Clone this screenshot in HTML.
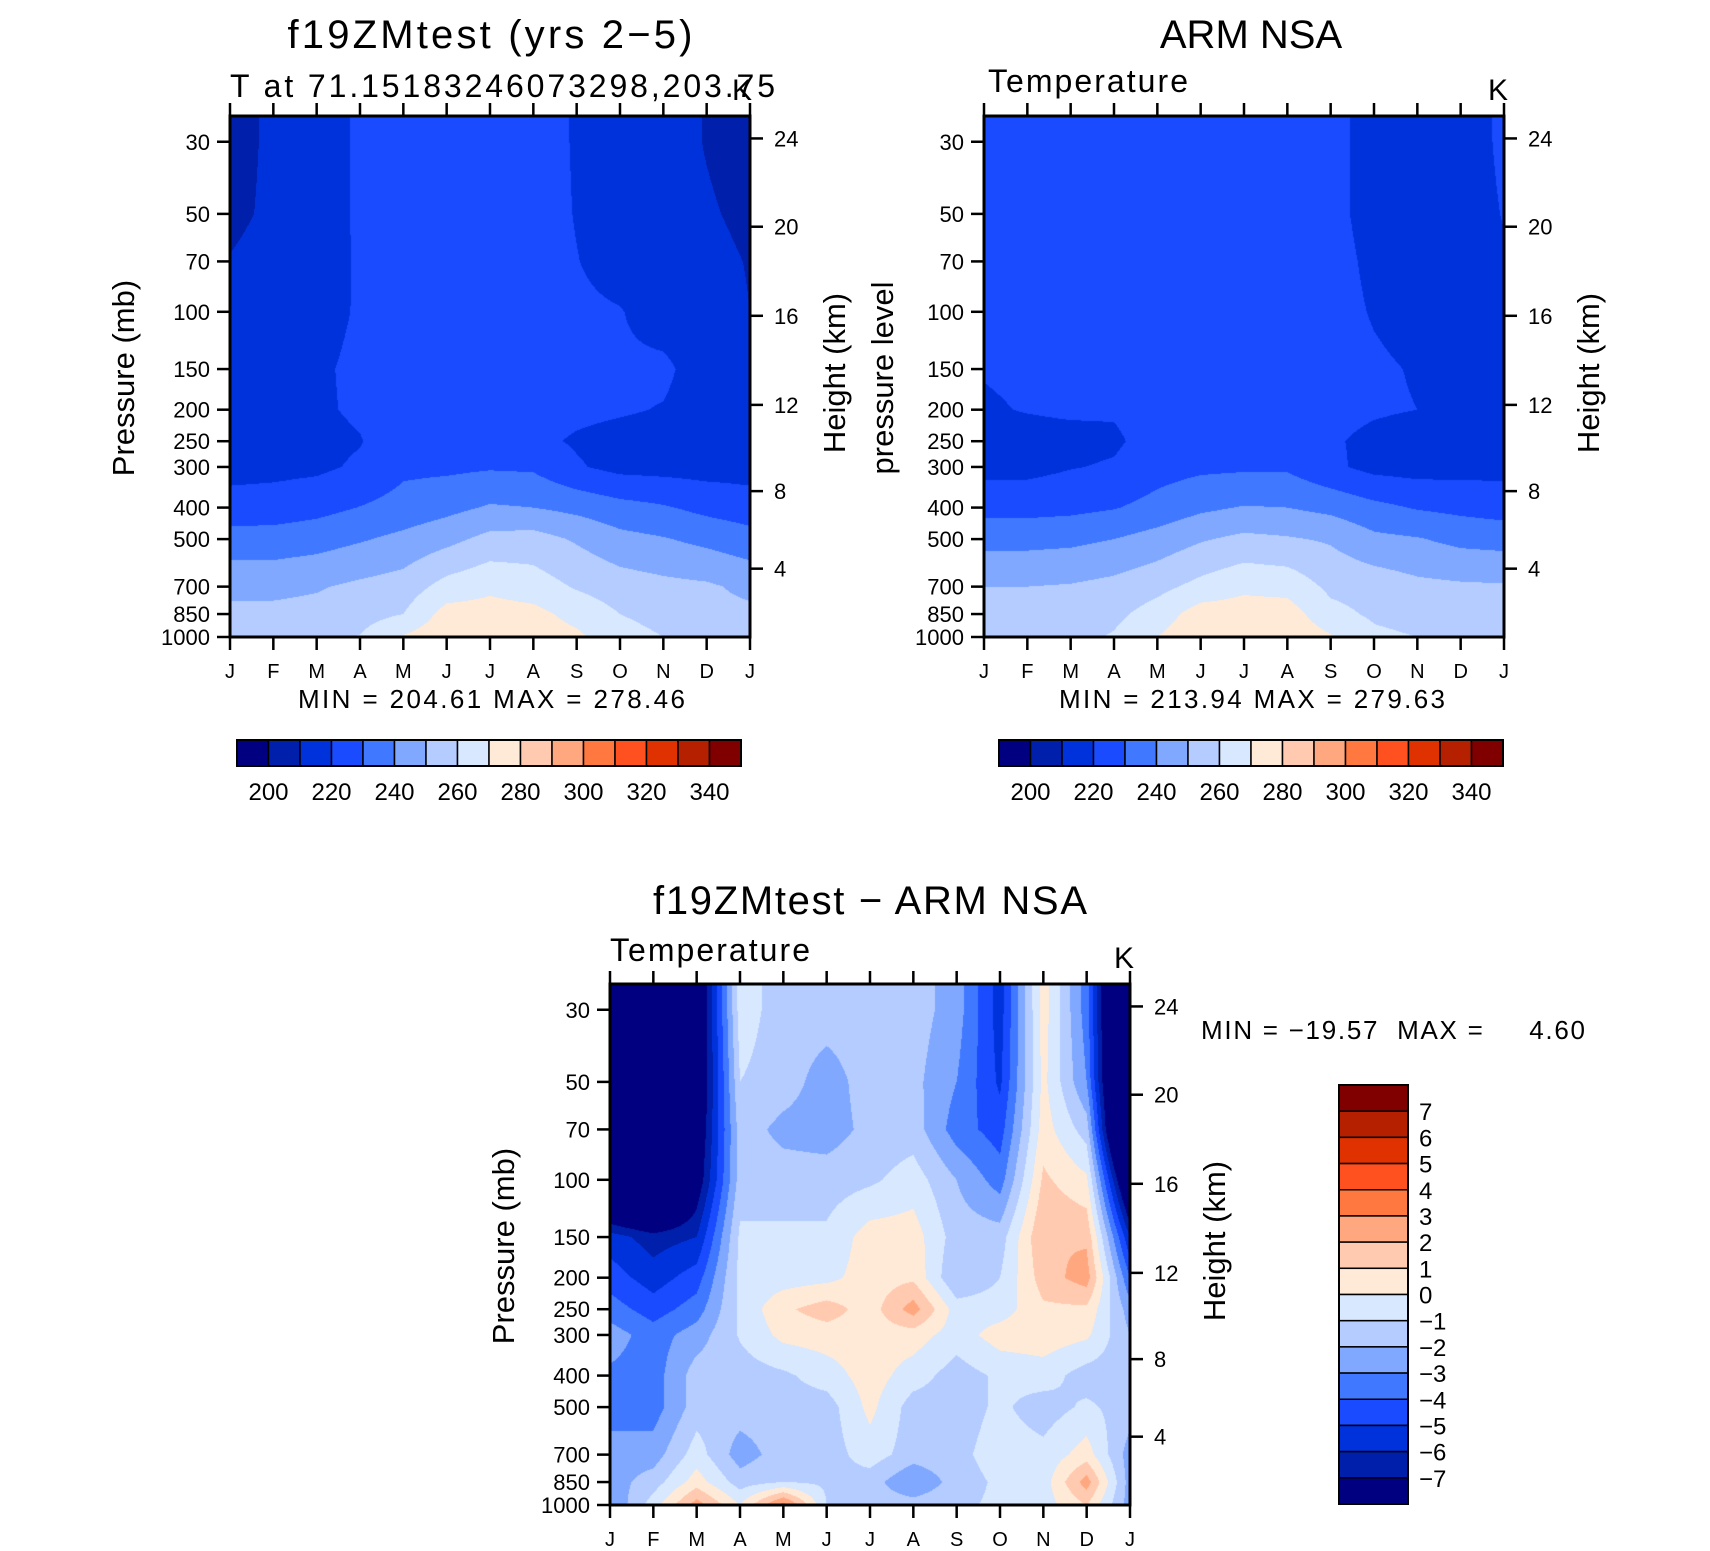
<!DOCTYPE html>
<html><head><meta charset="utf-8">
<style>
html,body{margin:0;padding:0;background:#fff;}
#root{position:relative;width:1710px;height:1551px;overflow:hidden;background:#fff;font-family:"Liberation Sans",sans-serif;}
canvas{position:absolute;}
svg{position:absolute;left:0;top:0;}
</style></head>
<body>
<div id="root">
<canvas id="c-model" width="520" height="521" style="left:230px;top:116px"></canvas>
<canvas id="c-obs" width="520" height="521" style="left:984px;top:116px"></canvas>
<canvas id="c-diff" width="520" height="521" style="left:610px;top:984px"></canvas>
<svg id="ov" width="1710" height="1551"></svg>
</div>
<script>
// ---- data ----
const P_LEVELS = [1000,850,700,500,400,300,250,200,150,100,70,50,30];
const MONTHS = ['J','F','M','A','M','J','J','A','S','O','N','D','J'];
const HEIGHT_TICKS = [4,8,12,16,20,24];
const T_LEVEL_LABELS = [200,220,240,260,280,300,320,340];
const DIFF_LEVEL_LABELS = [7,6,5,4,3,2,1,0,-1,-2,-3,-4,-5,-6,-7];
const PALETTE = ['#000080','#001FAA','#0032DC','#1A4BFF','#4078FF','#80A8FF','#B4CCFF','#D8E8FF','#FFEAD8','#FFCAB0','#FFA880','#FF7840','#FF5020','#E03200','#B42000','#800000'];
// model temperature per month, levels 1000 -> 30 mb
const MODEL_T = [
[255,252.2,247.6,233.8,224.7,216,215,214,214,213,210.5,207.5,206],
[255.5,252.3,247.6,234,224.9,217,215.5,215,215,214.5,214,212,212],
[257,253,249.1,235.8,226.8,218,217,218.5,218.5,216.5,216,215,215],
[260.5,256,252,239,230.3,221.5,219.5,221.5,222,221,221,221.5,221.5],
[271,260,254.4,242.6,233.6,228,226,225,224.5,224,224,224,224],
[277,274,263.8,247,237,228,226,225.5,225.5,225.5,225.5,225.5,225.5],
[278,274,268,253,241.1,229,226,225.5,225,225,225,226,226],
[276,273,265,254,240,228.5,222,223,223,223,224,224.5,225],
[272,266.7,259,248.8,237.2,221,219,222,222.5,222,220.3,219.5,219],
[264,260,255,243,233.5,217,217,221,221.5,220.5,216,215,215],
[260,256.6,252.7,240.7,231,216.5,216,219.5,222,215.5,215,214,214],
[255,252.5,251.5,237.3,227.2,216,215,215,215,214,212.5,211,209.5],
[255,252.2,247.6,233.8,224.7,216,215,214,214,210,209.5,208,206]
];
// ARM NSA temperature
const OBS_T = [
[256,253,250,236.8,226.6,217,216,219,220.5,221.5,222,222,222],
[256,253,250,236.8,226.6,217,216.5,220.5,221.5,222,222,222,222],
[257,254,250.8,237.6,227.4,219.5,217,221.5,222,222.5,222.5,222.5,222.5],
[261,257.5,253,240,229.4,221,218.5,221,223,223,223,223,223],
[270,264.5,257,244,233.3,226,224,224,224,224,224,224,224],
[278,275,263,249,238,228,226,225,225,225,225,225,225],
[279,275,267.8,252.4,240.6,228.5,226,225.5,225.5,225.5,225.5,225.5,225.5],
[278,275,266.5,251,240,228.5,225,225,225,225,225,225,225],
[271,263,257.8,248.8,237.2,222,221,222.5,223,222.5,222.5,222,222.5],
[262,258.5,256,242.3,232.7,217,218,221,221,219.5,218.5,217.5,217],
[260,256.5,252.5,240.7,229.2,216,216,220,219.5,217.5,216,216,215.5],
[255,253,251.5,237.3,227.4,216.5,216,216,216,216,215.5,215,214.5],
[255,253,251,236.3,225.6,217,216,216,216,217,219,220.5,222]
];
// model minus obs
const DIFF_T = [
[-3,-2.5,-2.5,-3.5,-3.2,-2.5,-3.5,-4.5,-5.5,-12,-15,-15,-15],
[-0.5,-1.5,-2.5,-3.5,-3.5,-3.5,-4.5,-5.5,-6.5,-14,-15,-15,-15],
[2.5,0.5,-0.5,-1.5,-1.5,-2.5,-3.5,-4.5,-6,-8,-8.5,-9,-9],
[0,-1.5,-2.5,-1.5,-1.5,-0.9,-0.8,-0.7,-0.8,-1.5,-1.5,-1,-0.5],
[3.5,-1,-1.5,-1.5,-1.2,0.3,0.8,-0.5,-0.8,-1.5,-2.3,-1.5,-1.5],
[-1,-1.2,-1.5,-1.5,-0.5,0.5,1.5,-0.3,-0.8,-1.5,-2.5,-2.5,-1.5],
[-1.5,-1.5,-0.5,0.3,0.5,0.5,0.5,0.5,0.5,-1.2,-1.7,-1.5,-1.5],
[-1.5,-3,-1.5,-1.5,-0.5,0.5,2.5,0.8,0.5,-0.5,-1.5,-1.7,-1.5],
[-1.2,-1.5,-1.3,-1.5,-1.5,-0.5,-0.5,-2,-1.5,-2,-3.5,-3,-2.5],
[-0.8,-0.8,-0.5,-0.8,-0.8,0.5,-0.5,-1,-1.5,-3.5,-4.5,-5.2,-5.5],
[-0.5,-0.5,-0.7,-1.5,-0.5,0.6,0.8,1.5,2,1.2,0.5,0.3,0.5],
[1,2.5,0.5,-0.8,-1.5,0.2,0.8,2.5,1.8,0.2,-1.5,-3,-3.5],
[-2.5,-2.5,-2.5,-1.5,-1.5,-2,-2.5,-4,-6,-10,-14,-14,-14]
];

// ---- geometry ----
const W = 520, H = 521, P_TOP = 25;
const K = H / Math.log(1000 / P_TOP);
function yOfP(p){ return H - K * Math.log(1000 / p); }
function xOfM(m){ return m / 12 * W; }
function zToP(z){
  if (z <= 11) return 1013.25 * Math.pow(1 - 0.0065 * z * 1000 / 288.15, 5.2559);
  if (z <= 20) return 226.32 * Math.exp(-(z - 11) * 1000 / 6341.6);
  return 54.749 * Math.pow(1 + 0.001 * (z - 20) * 1000 / 216.65, -34.163);
}
const LNP = P_LEVELS.map(p => Math.log(p));
function hexToRgb(h){ return [parseInt(h.substr(1,2),16),parseInt(h.substr(3,2),16),parseInt(h.substr(5,2),16)]; }
const RGB = PALETTE.map(hexToRgb);

function drawField(id, grid, classify){
  const cv = document.getElementById(id), ctx = cv.getContext('2d');
  const img = ctx.createImageData(W, H), d = img.data;
  const nM = grid.length, nL = P_LEVELS.length;
  for (let y = 0; y < H; y++){
    const lp = Math.log(1000) - (H - (y + 0.5)) / K;
    let j = 0, t = 0;
    if (lp >= LNP[0]) { j = 0; t = 0; }
    else if (lp <= LNP[nL-1]) { j = nL - 2; t = 1; }
    else { for (j = 0; j < nL - 1; j++){ if (lp <= LNP[j] && lp >= LNP[j+1]) break; } t = (LNP[j] - lp) / (LNP[j] - LNP[j+1]); }
    for (let x = 0; x < W; x++){
      const m = (x + 0.5) / W * (nM - 1);
      let i = Math.min(Math.floor(m), nM - 2); const u = m - i;
      const v = (1-u)*(1-t)*grid[i][j] + u*(1-t)*grid[i+1][j] + (1-u)*t*grid[i][j+1] + u*t*grid[i+1][j+1];
      const c = RGB[classify(v)];
      const k = (y * W + x) * 4;
      d[k] = c[0]; d[k+1] = c[1]; d[k+2] = c[2]; d[k+3] = 255;
    }
  }
  ctx.putImageData(img, 0, 0);
}
const clampIdx = i => Math.max(0, Math.min(15, i));
drawField('c-model', MODEL_T, v => clampIdx(Math.floor((v - 190) / 10)));
drawField('c-obs', OBS_T, v => clampIdx(Math.floor((v - 190) / 10)));
drawField('c-diff', DIFF_T, v => clampIdx(Math.floor(v + 8)));

// ---- overlay ----
const NS = 'http://www.w3.org/2000/svg';
const ov = document.getElementById('ov');
function mk(tag, attrs, parent){
  const e = document.createElementNS(NS, tag);
  for (const a in attrs) e.setAttribute(a, attrs[a]);
  (parent || ov).appendChild(e);
  return e;
}
function txt(str, x, y, size, anchor, parent){
  const e = mk('text', {x:x, y:y, 'font-size':size, 'text-anchor':anchor||'start', fill:'#000', 'font-family':'Liberation Sans, sans-serif'}, parent);
  e.textContent = str;
  return e;
}
function axes(px, py, name, leftTitle, rightTitle){
  const g = mk('g', {});
  
  
  const fr = mk('rect', {x:px, y:py, width:W, height:H, fill:'none', stroke:'#000', 'stroke-width':3}, g);
  
  
  MONTHS.forEach((m, i) => {
    const x = px + xOfM(i);
    mk('line', {x1:x, y1:py+H, x2:x, y2:py+H+13, stroke:'#000', 'stroke-width':2.5}, g);
    mk('line', {x1:x, y1:py, x2:x, y2:py-13, stroke:'#000', 'stroke-width':2.5}, g);
    const t = txt(m, x, py + H + 41, 20, 'middle', g);
    
    
  });
  P_LEVELS.forEach(p => {
    const y = py + yOfP(p);
    mk('line', {x1:px, y1:y, x2:px-13, y2:y, stroke:'#000', 'stroke-width':2.5}, g);
    const t = txt(String(p), px - 20, y + 8, 22, 'end', g);
    
    
  });
  HEIGHT_TICKS.forEach(z => {
    const y = py + yOfP(zToP(z));
    mk('line', {x1:px+W, y1:y, x2:px+W+13, y2:y, stroke:'#000', 'stroke-width':2.5}, g);
    const t = txt(String(z), px + W + 24, y + 8, 22, 'start', g);
    
    
  });
  const lt = txt(leftTitle, 0, 0, 31, 'middle', g);
  lt.setAttribute('transform', 'translate(' + (leftTitle === 'pressure level' ? px - 91 : px - 96) + ',' + (py + 262) + ') rotate(-90)');
  
  
  const rt = txt(rightTitle, 0, 0, 31, 'middle', g);
  rt.setAttribute('transform', 'translate(' + (px + W + 95) + ',' + (py + 257) + ') rotate(-90)');
  
  
}
axes(230, 116, 'model', 'Pressure (mb)', 'Height (km)');
axes(984, 116, 'obs', 'pressure level', 'Height (km)');
axes(610, 984, 'diff', 'Pressure (mb)', 'Height (km)');

let e;
e = txt('f19ZMtest (yrs 2\u22125)', 490, 48, 40, 'middle'); e.setAttribute('textLength', 405);


e = txt('T at 71.15183246073298,203.75', 230, 97, 32); e.setAttribute('textLength', 545);


e = txt('K', 752, 100, 30, 'end');


e = txt('ARM NSA', 1251, 48, 40, 'middle');


e = txt('Temperature', 988, 92, 32); e.setAttribute('textLength', 200);


e = txt('K', 1508, 100, 30, 'end');


e = txt('f19ZMtest \u2212 ARM NSA', 870, 914, 40, 'middle'); e.setAttribute('textLength', 434);


e = txt('Temperature', 610, 961, 32); e.setAttribute('textLength', 200);


e = txt('K', 1134, 968, 30, 'end');


e = txt('MIN = 204.61  MAX = 278.46', 298, 708, 26); e.setAttribute('textLength', 387);


e = txt('MIN = 213.94  MAX = 279.63', 1059, 708, 26); e.setAttribute('textLength', 386);


e = txt('MIN = \u221219.57  MAX =     4.60', 1201, 1039, 26); e.style.whiteSpace = 'pre'; e.setAttribute('textLength', 384);



function hbar(x0, name){
  const y0 = 740, bw = 504 / 16, bh = 26;
  const g = mk('g', {});
  
  
  PALETTE.forEach((c, i) => {
    const r = mk('rect', {x:x0 + i*bw, y:y0, width:bw, height:bh, fill:c, stroke:'#000', 'stroke-width':1.5}, g);
    
    
  });
  mk('rect', {x:x0, y:y0, width:504, height:bh, fill:'none', stroke:'#000', 'stroke-width':2}, g);
  T_LEVEL_LABELS.forEach((v, k) => {
    const t = txt(String(v), x0 + (1 + 2*k) * bw, 800, 24, 'middle', g);
    
    
  });
}
hbar(237, 'model-colorbar');
hbar(999, 'obs-colorbar');

(function(){
  const x0 = 1339, y0 = 1085, bw = 69, bh = 419 / 16;
  const g = mk('g', {});
  
  
  PALETTE.slice().reverse().forEach((c, i) => {
    const r = mk('rect', {x:x0, y:y0 + i*bh, width:bw, height:bh, fill:c, stroke:'#000', 'stroke-width':1.5}, g);
    
    
  });
  mk('rect', {x:x0, y:y0, width:bw, height:419, fill:'none', stroke:'#000', 'stroke-width':2}, g);
  DIFF_LEVEL_LABELS.forEach((v, k) => {
    const t = txt(v < 0 ? '\u2212' + Math.abs(v) : String(v), x0 + 80, y0 + (k + 1) * bh + 9, 24, 'start', g);
    
    
  });
})();
</script>
</body></html>
